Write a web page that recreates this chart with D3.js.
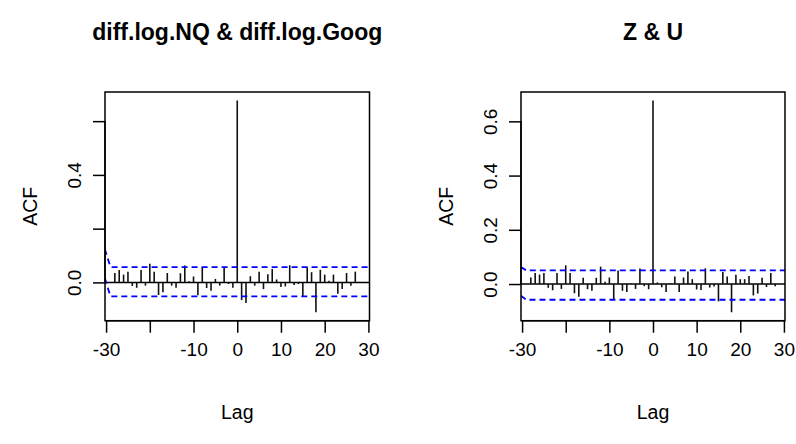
<!DOCTYPE html>
<html>
<head>
<meta charset="utf-8">
<script src="https://cdn.jsdelivr.net/npm/d3@7"></script>
<style>
  body { margin: 0; background: #fff; }
  svg { display: block; }
  text { font-family: "Liberation Sans", Arial, Helvetica, sans-serif; }
</style>
</head>
<body>
<svg id="chart"></svg>
<script>
// lags of the cross-correlation
const lags = [-28, -27, -26, -25, -24, -23, -22, -21, -20, -19, -18, -17, -16, -15, -14,
  -13, -12, -11, -10, -9, -8, -7, -6, -5, -4, -3, -2, -1, 0, 1, 2, 3, 4, 5, 6, 7, 8,
  9, 10, 11, 12, 13, 14, 15, 16, 17, 18, 19, 20, 21, 22, 23, 24, 25, 26, 27, 28];

// diff.log.NQ & diff.log.Goog
const acfNQGoog = [0.035, 0.046, 0.029, 0.040, -0.013, -0.020, 0.046, -0.012, 0.069, 0.040,
  -0.047, -0.037, 0.035, -0.012, -0.020, 0.034, 0.063, 0.004, 0.022, -0.048, 0.056, -0.021,
  -0.031, 0.013, -0.012, 0.057, -0.006, -0.020, 0.677, -0.066, -0.077, 0.023, -0.012, 0.040,
  -0.025, 0.030, 0.050, 0.011, -0.017, -0.015, 0.064, -0.010, -0.006, -0.052, 0.056, 0.038,
  -0.111, 0.047, 0.029, 0.006, 0.029, -0.042, -0.025, 0.035, -0.012, 0.040, 0.002];

// Z & U
const acfZU = [0.024, 0.041, 0.035, 0.041, -0.014, -0.023, 0.041, -0.018, 0.069, 0.041,
  -0.034, -0.047, 0.023, -0.019, -0.025, 0.023, 0.064, 0.008, 0.024, -0.057, 0.050, -0.025,
  -0.029, 0.002, -0.018, 0.057, -0.008, -0.019, 0.677, 0.006, -0.012, -0.029, 0.002, 0.028,
  -0.029, 0.024, 0.046, 0.018, -0.020, -0.022, 0.058, -0.013, -0.009, -0.064, 0.044, 0.028,
  -0.104, 0.034, 0.018, 0.018, 0.030, -0.042, -0.035, 0.023, -0.011, 0.041, -0.008];

// confidence band lines (lag, value)
const ciLags = [-30.3, -29, 30.3];
const ciNQGoogUpper = [0.124, 0.057, 0.057];
const ciNQGoogLower = [0.016, -0.052, -0.052];
const ciZUUpper = [0.063, 0.050, 0.050];
const ciZULower = [-0.043, -0.058, -0.058];

const xTicks = [-30, -20, -10, 0, 10, 20, 30];
const xTickLabels = ["-30", "", "-10", "0", "10", "20", "30"];
const yTicks = [0, 0.2, 0.4, 0.6];
const yTickLabelsNQGoog = ["0.0", "", "0.4", ""];
const yTickLabelsZU = ["0.0", "0.2", "0.4", "0.6"];

var width = 796,
    height = 444;

const svg = d3.select("#chart").attr("width", width).attr("height", height);

function acfPanel(opts) {
    const left = opts.left, right = opts.right, top = 92, bottom = 320.7;
    const values = opts.values;

    let lo = d3.min(values.concat(opts.ciLower)),
        hi = d3.max(values.concat(opts.ciUpper));
    // R style 4% extension
    let pad = (hi - lo) * 0.04;
    let x = d3.scaleLinear().domain([-30.25, 30.25]).range([left, right]);
    let y = d3.scaleLinear().domain([lo - pad, hi + pad]).range([bottom, top]);

    const g = svg.append("g");
    const clipId = "clip" + opts.id;
    g.append("clipPath").attr("id", clipId)
        .append("rect")
        .attr("x", left).attr("y", top)
        .attr("width", right - left).attr("height", bottom - top);

    // zero line
    g.append("line")
        .attr("x1", left).attr("x2", right)
        .attr("y1", y(0)).attr("y2", y(0))
        .attr("stroke", "#000").attr("stroke-width", 1.5);

    // bars
    g.selectAll("line.bar")
        .data(values)
        .enter()
        .append("line")
        .attr("class", "bar")
        .attr("x1", (d, i) => x(lags[i]))
        .attr("x2", (d, i) => x(lags[i]))
        .attr("y1", y(0))
        .attr("y2", d => y(d))
        .attr("stroke", "#111")
        .attr("stroke-width", 1.6);

    // confidence lines
    let ciLine = d3.line()
        .x((d, i) => x(ciLags[i]))
        .y(d => y(d));
    [opts.ciUpper, opts.ciLower].forEach(function(ci) {
        g.append("path")
            .attr("d", ciLine(ci))
            .attr("clip-path", "url(#" + clipId + ")")
            .attr("fill", "none")
            .attr("stroke", "#0000ff")
            .attr("stroke-width", 1.8)
            .attr("stroke-dasharray", "6,4");
    });

    // box
    g.append("rect")
        .attr("x", left).attr("y", top)
        .attr("width", right - left).attr("height", bottom - top)
        .attr("fill", "none").attr("stroke", "#000").attr("stroke-width", 1.5);

    // x axis
    let xAxis = d3.axisBottom(x)
        .tickValues(xTicks)
        .tickSize(12)
        .tickPadding(10)
        .tickFormat((d, i) => xTickLabels[i]);
    let gx = g.append("g").attr("transform", "translate(0," + bottom + ")").call(xAxis);
    gx.select(".domain").attr("d", "M" + x(xTicks[0]) + ",0H" + x(xTicks[xTicks.length - 1]))
        .attr("stroke-width", 1.5);
    gx.selectAll(".tick line").attr("stroke-width", 1.5);
    gx.selectAll("text").style("font-size", "19px");

    // y axis
    let yAxis = d3.axisLeft(y)
        .tickValues(yTicks)
        .tickSize(12)
        .tickFormat((d, i) => opts.yLabels[i]);
    let gy = g.append("g").attr("transform", "translate(" + left + ",0)").call(yAxis);
    gy.select(".domain").attr("d", "M0," + y(yTicks[0]) + "V" + y(yTicks[yTicks.length - 1]))
        .attr("stroke-width", 1.5);
    gy.selectAll(".tick line").attr("stroke-width", 1.5);
    gy.selectAll(".tick text")
        .attr("x", null).attr("dy", null)
        .attr("text-anchor", "middle")
        .attr("transform", "translate(-24,0) rotate(-90)")
        .style("font-size", "19px");
    gx.attr("font-family", null).attr("font-size", null);
    gy.attr("font-family", null).attr("font-size", null);

    const cx = (left + right) / 2;
    g.append("text")
        .attr("x", cx).attr("y", 40)
        .attr("text-anchor", "middle")
        .attr("fill", "#000")
        .style("font-size", "23px").style("font-weight", "bold")
        .text(opts.title);
    g.append("text")
        .attr("x", cx).attr("y", 419)
        .attr("text-anchor", "middle")
        .attr("fill", "#000")
        .style("font-size", "19.5px")
        .text("Lag");
    g.append("text")
        .attr("transform", "translate(" + (left - 68) + "," + ((top + bottom) / 2) + ") rotate(-90)")
        .attr("text-anchor", "middle")
        .attr("fill", "#000")
        .style("font-size", "19.5px")
        .text("ACF");
}

acfPanel({
    id: "a", left: 105, right: 369.5, title: "diff.log.NQ & diff.log.Goog",
    values: acfNQGoog, ciUpper: ciNQGoogUpper, ciLower: ciNQGoogLower,
    yLabels: yTickLabelsNQGoog
});
acfPanel({
    id: "b", left: 521, right: 785, title: "Z & U",
    values: acfZU, ciUpper: ciZUUpper, ciLower: ciZULower,
    yLabels: yTickLabelsZU
});
</script>
</body>
</html>
